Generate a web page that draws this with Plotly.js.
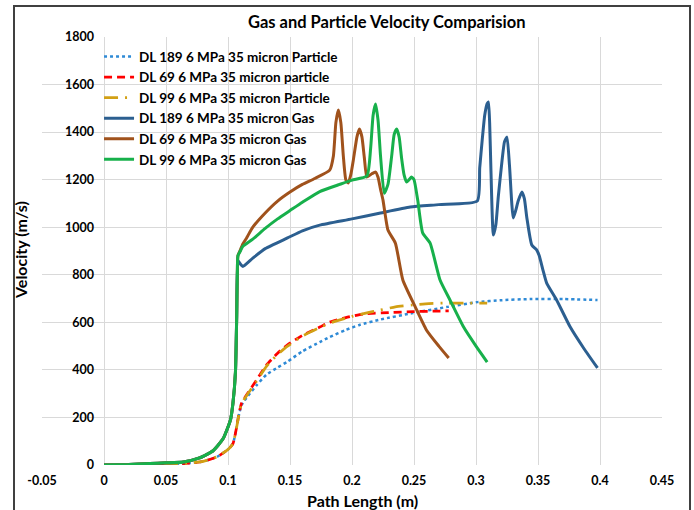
<!DOCTYPE html>
<html>
<head>
<meta charset="utf-8">
<script src="https://cdn.plot.ly/plotly-3.0.1.min.js"></script>
<style>html,body{margin:0;padding:0;background:#fff;}#chart{width:694px;height:510px;}</style>
</head>
<body>
<div id="chart"></div>
<script>
// ---- Data ----
var seriesNames = [
  "DL 189 6 MPa 35 micron Particle",
  "DL 69 6 MPa 35 micron particle",
  "DL 99 6 MPa 35 micron Particle",
  "DL 189 6 MPa 35 micron Gas",
  "DL 69 6 MPa 35 micron Gas",
  "DL 99 6 MPa 35 micron Gas"
];

var p189X = [0, 0.045, 0.069, 0.08, 0.091, 0.1, 0.104, 0.107, 0.109, 0.111, 0.116, 0.123, 0.131, 0.14, 0.148, 0.16, 0.174, 0.182, 0.195, 0.206, 0.223, 0.249, 0.277, 0.301, 0.32, 0.344, 0.37, 0.398];
var p189Y = [0, 0, 8, 15, 34, 65, 90, 160, 215, 252, 290, 335, 380, 410, 435, 478, 517, 538, 568, 589, 612, 639, 665, 685, 693, 698, 698, 694];

var p69X = [0, 0.045, 0.069, 0.08, 0.091, 0.1, 0.104, 0.107, 0.109, 0.111, 0.116, 0.123, 0.131, 0.14, 0.148, 0.16, 0.174, 0.182, 0.195, 0.209, 0.23, 0.249, 0.265, 0.278];
var p69Y = [0, 0, 8, 15, 34, 65, 90, 160, 220, 261, 303, 357, 420, 470, 505, 545, 580, 601, 620, 635, 641, 645, 647, 648];

var p99X = [0, 0.045, 0.069, 0.08, 0.091, 0.1, 0.104, 0.107, 0.109, 0.111, 0.116, 0.123, 0.131, 0.14, 0.148, 0.16, 0.174, 0.185, 0.2, 0.212, 0.223, 0.235, 0.249, 0.262, 0.277, 0.29, 0.309];
var p99Y = [0, 0, 8, 15, 34, 65, 90, 160, 218, 258, 300, 352, 415, 465, 500, 542, 578, 602, 625, 640, 652, 665, 673, 679, 681, 681, 681];

var g189X = [0, 0.02, 0.037, 0.05, 0.064, 0.077, 0.088, 0.096, 0.102, 0.104, 0.106, 0.107, 0.108, 0.11, 0.112, 0.12, 0.13, 0.148, 0.16, 0.174, 0.2, 0.223, 0.247, 0.27, 0.301, 0.303, 0.305, 0.307, 0.309, 0.310, 0.311, 0.312, 0.314, 0.316, 0.318, 0.321, 0.323, 0.325, 0.327, 0.330, 0.332, 0.334, 0.337, 0.339, 0.341, 0.345, 0.349, 0.351, 0.354, 0.357, 0.365, 0.376, 0.387, 0.398];
var g189Y = [0, 2, 6, 9, 13, 30, 60, 110, 190, 260, 390, 620, 860, 845, 835, 870, 910, 955, 985, 1009, 1035, 1060, 1085, 1095, 1110, 1250, 1366, 1470, 1520, 1527, 1440, 1250, 967, 1010, 1130, 1280, 1360, 1379, 1260, 1039, 1070, 1110, 1148, 1120, 1040, 925, 904, 880, 820, 765, 694, 580, 490, 408];

var g69X = [0, 0.02, 0.037, 0.05, 0.064, 0.077, 0.088, 0.096, 0.102, 0.104, 0.106, 0.107, 0.1075, 0.108, 0.11, 0.112, 0.115, 0.12, 0.13, 0.14, 0.15, 0.16, 0.17, 0.182, 0.185, 0.187, 0.189, 0.191, 0.193, 0.195, 0.197, 0.199, 0.201, 0.204, 0.206, 0.208, 0.21, 0.212, 0.216, 0.219, 0.221, 0.223, 0.225, 0.229, 0.235, 0.241, 0.251, 0.26, 0.27, 0.278];
var g69Y = [0, 2, 6, 9, 13, 30, 60, 110, 190, 260, 390, 620, 800, 880, 905, 930, 955, 1000, 1060, 1110, 1148, 1180, 1205, 1240, 1300, 1440, 1493, 1440, 1300, 1200, 1186, 1220, 1280, 1380, 1413, 1380, 1290, 1211, 1225, 1232, 1210, 1160, 1114, 988, 933, 778, 665, 568, 500, 450];

var g99X = [0, 0.02, 0.037, 0.05, 0.064, 0.077, 0.088, 0.096, 0.102, 0.104, 0.106, 0.107, 0.1075, 0.108, 0.11, 0.112, 0.12, 0.13, 0.14, 0.15, 0.16, 0.174, 0.19, 0.2, 0.212, 0.215, 0.217, 0.219, 0.221, 0.223, 0.226, 0.229, 0.232, 0.234, 0.236, 0.238, 0.24, 0.242, 0.244, 0.246, 0.248, 0.25, 0.253, 0.257, 0.263, 0.271, 0.279, 0.29, 0.3, 0.309];
var g99Y = [0, 2, 6, 9, 13, 30, 60, 110, 190, 260, 390, 620, 800, 880, 900, 920, 950, 995, 1035, 1070, 1105, 1150, 1180, 1198, 1215, 1330, 1470, 1518, 1450, 1300, 1143, 1180, 1300, 1390, 1413, 1380, 1290, 1220, 1190, 1200, 1211, 1200, 1114, 976, 933, 778, 694, 580, 500, 433];

var xTickVals = [-0.05, 0, 0.05, 0.1, 0.15, 0.2, 0.25, 0.3, 0.35, 0.4, 0.45];
var xTickText = ["-0.05", "0", "0.05", "0.1", "0.15", "0.2", "0.25", "0.3", "0.35", "0.4", "0.45"];
var yTickVals = [0, 200, 400, 600, 800, 1000, 1200, 1400, 1600, 1800];

// ---- Styles ----
var FONT = "Lato, 'Open Sans', sans-serif";
function trace(x, y, name, color, width, dash) {
  return {x: x, y: y, name: name, type: 'scatter', mode: 'lines',
          line: {color: color, width: width, dash: dash, shape: 'spline', smoothing: 0.5},
          hoverinfo: 'skip'};
}
var data = [
  trace(p189X, p189Y, seriesNames[0], '#2E8AD6', 2.5, 'dot'),
  trace(p69X, p69Y, seriesNames[1], '#FF0000', 2.75, '8px,5px'),
  trace(p99X, p99Y, seriesNames[2], '#D2A014', 2.75, '14px,7px,2px,7px'),
  trace(g189X, g189Y, seriesNames[3], '#2C5F90', 3, 'solid'),
  trace(g69X, g69Y, seriesNames[4], '#A0521C', 3, 'solid'),
  trace(g99X, g99Y, seriesNames[5], '#17B04B', 3, 'solid')
];

var layout = {
  width: 694, height: 510,
  margin: {l: 42, r: 32, t: 37, b: 45, pad: 0},
  paper_bgcolor: '#ffffff', plot_bgcolor: '#ffffff',
  font: {family: FONT, color: '#000000', size: 12},
  showlegend: true,
  title: {text: 'Gas and Particle Velocity Comparision', font: {family: FONT, size: 16.5, weight: 'bold', color: '#000'},
          xref: 'paper', x: 0.556, xanchor: 'center', yref: 'container', y: 1 - 22/510, yanchor: 'middle'},
  xaxis: {
    range: [-0.05, 0.45], tickvals: xTickVals, ticktext: xTickText,
    showgrid: true, gridcolor: '#d9d9d9', gridwidth: 1, zeroline: false,
    showline: false, ticks: '', fixedrange: true,
    tickfont: {family: FONT, size: 12.5, weight: 'bold', color: '#000'}, ticklabelstandoff: 6
  },
  yaxis: {
    range: [0, 1800], tickvals: yTickVals, anchor: 'free', position: 0.1,
    showgrid: true, gridcolor: '#d9d9d9', gridwidth: 1, zeroline: false,
    showline: false, ticks: '', fixedrange: true,
    tickfont: {family: FONT, size: 12.5, weight: 'bold', color: '#000'}, ticklabelstandoff: 10
  },
  legend: {x: 0.092, y: 0.99, xanchor: 'left', yanchor: 'top', bgcolor: 'rgba(0,0,0,0)',
           font: {family: FONT, size: 13.5, weight: 'bold', color: '#000'}, traceorder: 'normal', tracegroupgap: 0},
  annotations: [
    {text: 'Velocity (m/s)', xref: 'paper', yref: 'paper', x: (20-42)/620, y: (465-250)/428,
     textangle: -90, showarrow: false, xanchor: 'center', yanchor: 'middle',
     font: {family: FONT, size: 16, weight: 'bold', color: '#000'}},
    {text: 'Path Length (m)', xref: 'paper', yref: 'paper', x: (362-42)/620, y: (465-500)/428,
     showarrow: false, xanchor: 'center', yanchor: 'middle',
     font: {family: FONT, size: 16, weight: 'bold', color: '#000'}}
  ],
  shapes: [
    {type: 'rect', xref: 'paper', yref: 'paper', x0: (14-42)/620, x1: (690-42)/620, y0: (465-520)/428, y1: (465-6)/428,
     line: {color: '#404040', width: 2}, fillcolor: 'rgba(0,0,0,0)', layer: 'below'}
  ]
};

Plotly.newPlot('chart', data, layout, {displayModeBar: false, staticPlot: true});
</script>
</body>
</html>
